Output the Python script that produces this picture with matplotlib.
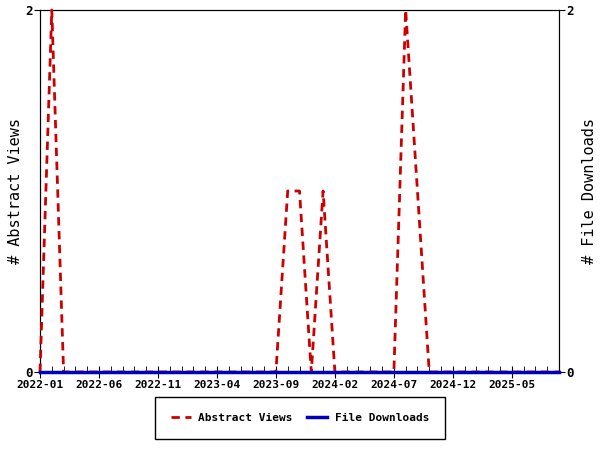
import matplotlib
matplotlib.use("Agg")
import matplotlib.pyplot as plt
import pandas as pd

months = pd.date_range("2022-01-01", "2025-09-01", freq="MS").strftime("%Y-%m").tolist()

abstract_views = [0, 2, 0, 0, 0, 0, 0, 0, 0, 0,
                  0, 0, 0, 0, 0, 0, 0, 0, 0, 0,
                  0, 1, 1, 0, 1, 0, 0, 0, 0, 0,
                  0, 2, 1, 0, 0, 0, 0, 0, 0, 0,
                  0, 0, 0, 0, 0]
file_downloads = [0] * len(months)

plt.rcParams['font.family'] = ['DejaVu Sans Mono']

fig = plt.figure(figsize=(6, 4.5), dpi=100)
ax = fig.add_axes([40 / 600, 1 - 372 / 450, 519 / 600, 362 / 450])
ax2 = ax.twinx()
# keep the data lines above the twin axis spines
ax.set_zorder(ax2.get_zorder() + 1)
ax.patch.set_visible(False)

x = list(range(len(months)))
l1, = ax.plot(x, abstract_views, color='#cc0000', lw=2, linestyle=(0, (3, 2)),
              label='Abstract Views', clip_on=False, zorder=3)
l2, = ax.plot(x, file_downloads, color='#0000bb', lw=2.5, label='File Downloads',
              clip_on=False, zorder=4)

ax.set_xlim(0, len(months) - 1)
ax.set_ylim(0, 2)
ax2.set_ylim(0, 2)
ax.set_yticks([0, 2])
ax2.set_yticks([0, 2])

major = x[::5]
ax.set_xticks(major)
ax.set_xticklabels([months[i] for i in major], fontsize=8, fontweight='bold')
ax.set_xticks(x, minor=True)
ax.tick_params(axis='x', which='major', direction='inout', length=8, pad=2)
ax.tick_params(axis='x', which='minor', direction='in', length=4)
ax.tick_params(axis='y', length=4, pad=1)
ax2.tick_params(axis='y', length=4, pad=1)
for lab in ax.get_yticklabels() + ax2.get_yticklabels():
    lab.set_fontsize(9)
    lab.set_fontweight('bold')

ax.set_ylabel('# Abstract Views', fontsize=11, labelpad=2)
ax2.set_ylabel('# File Downloads', fontsize=11, labelpad=6)

leg = fig.legend([l1, l2], ['Abstract Views', 'File Downloads'], loc='center',
                 bbox_to_anchor=(300 / 600, 1 - 418 / 450), ncol=2, fancybox=False,
                 edgecolor='black', framealpha=1, handlelength=1.8, columnspacing=1.3,
                 borderpad=1.4, handletextpad=0.7, prop={'size': 8, 'weight': 'bold'})
leg.get_frame().set_linewidth(1)

fig.savefig('out.png', dpi=100)
